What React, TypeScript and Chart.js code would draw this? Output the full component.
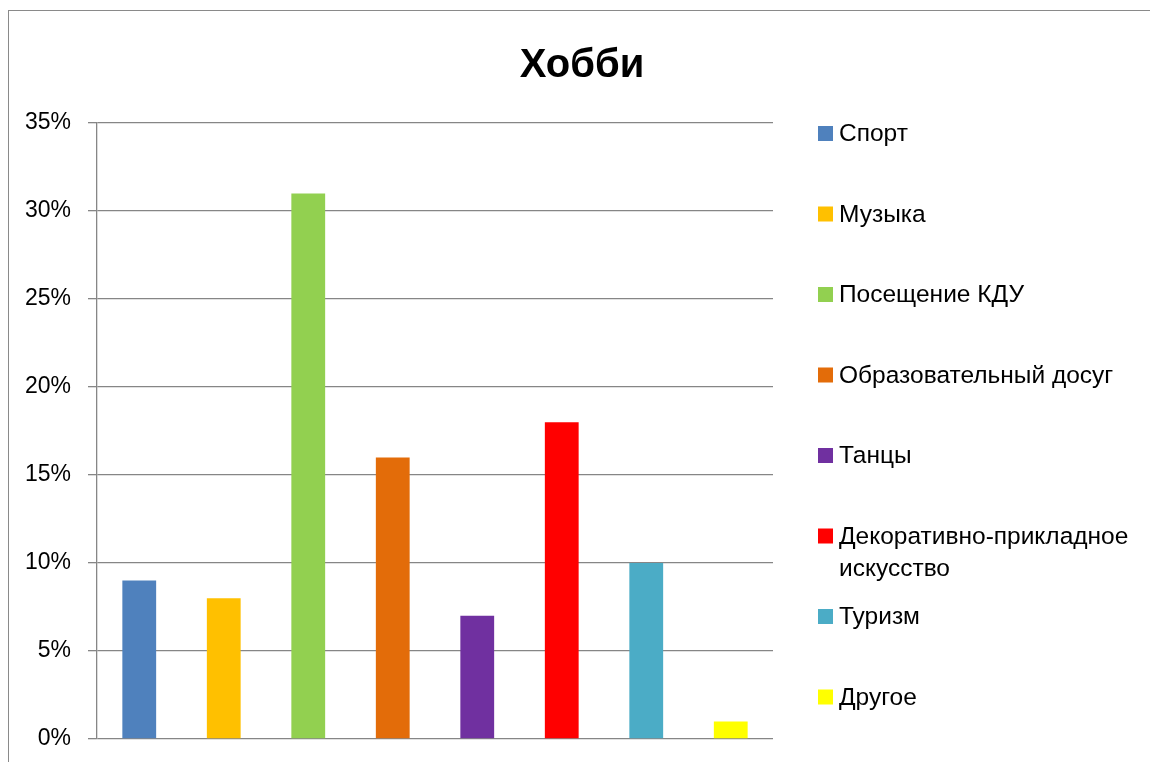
import React, { useEffect, useRef } from "react";
import { Chart, registerables } from "chart.js";

Chart.register(...registerables);

const TITLE = "Хобби";
const SERIES_NAMES: (string | string[])[] = [
  "Спорт",
  "Музыка",
  "Посещение КДУ",
  "Образовательный досуг",
  "Танцы",
  ["Декоративно-прикладное", "искусство"],
  "Туризм",
  "Другое",
];
const SERIES_VALUES = [9, 8, 31, 16, 7, 18, 10, 1];
const SERIES_COLORS = [
  "#4F81BD",
  "#FFC000",
  "#92D050",
  "#E36C09",
  "#7030A0",
  "#FF0000",
  "#4BACC6",
  "#FFFF00",
];
const Y_MAX = 35;
const Y_STEP = 5;

const FONT = "'Liberation Sans', Arial, sans-serif";

const titleAndLegend = {
  id: "titleAndLegend",
  afterDraw(chart: any) {
    const ctx = chart.ctx as CanvasRenderingContext2D;
    ctx.save();
    ctx.fillStyle = "#000";
    ctx.font = `bold 40px ${FONT}`;
    ctx.textAlign = "center";
    ctx.textBaseline = "alphabetic";
    ctx.fillText(TITLE, 582, 77);
    ctx.font = `24.5px ${FONT}`;
    ctx.textAlign = "left";
    ctx.textBaseline = "middle";
    const startY = 133.5;
    const step = 80.5;
    chart.data.datasets.forEach((ds: any, i: number) => {
      const cy = startY + i * step;
      ctx.fillStyle = ds.backgroundColor;
      ctx.fillRect(818, cy - 7.5, 15, 15);
      ctx.fillStyle = "#000";
      const lines = Array.isArray(ds.label) ? ds.label : [ds.label];
      lines.forEach((ln: string, j: number) => {
        ctx.fillText(ln, 839, cy + 1 + j * 32);
      });
    });
    ctx.restore();
  },
};

export default function App() {
  const ref = useRef<HTMLCanvasElement | null>(null);
  useEffect(() => {
    if (!ref.current) return;
    const chart = new Chart(ref.current, {
      type: "bar",
      data: {
        labels: [""],
        datasets: SERIES_NAMES.map((name, i) => ({
          label: name as any,
          data: [SERIES_VALUES[i]],
          backgroundColor: SERIES_COLORS[i],
          borderWidth: 0,
          categoryPercentage: 1,
          barPercentage: 0.4,
        })),
      },
      options: {
        animation: false,
        responsive: false,
        maintainAspectRatio: false,
        layout: { padding: { left: 0, right: 377, top: 123, bottom: 23 } },
        plugins: {
          legend: { display: false },
          title: { display: false },
          tooltip: { enabled: false },
        },
        scales: {
          x: {
            display: false,
            afterFit: (scale: any) => {
              scale.height = 0;
            },
          },
          y: {
            min: 0,
            max: Y_MAX,
            afterFit: (scale: any) => {
              scale.width = 97;
              scale.paddingBottom = 0;
              scale.paddingTop = 0;
            },
            ticks: {
              stepSize: Y_STEP,
              padding: 17,
              color: "#000",
              font: { family: FONT, size: 23 },
              callback: (v: any) => `${v}%`,
            },
            grid: {
              color: "#868686",
              lineWidth: 1.3,
              tickLength: 9,
              drawTicks: true,
            },
            border: { display: true, color: "#868686", width: 1.3 },
          },
        },
      },
      plugins: [titleAndLegend],
    });
    return () => chart.destroy();
  }, []);

  return (
    <div
      style={{
        position: "fixed",
        left: 0,
        top: 0,
        width: 1150,
        height: 762,
        background: "#fff",
        overflow: "hidden",
      }}
    >
      <div
        style={{
          position: "absolute",
          left: 8,
          top: 10,
          width: 1200,
          height: 800,
          borderLeft: "1.5px solid #8a8a8a",
          borderTop: "1.5px solid #8a8a8a",
        }}
      />
      <canvas
        ref={ref}
        width={1150}
        height={762}
        style={{ position: "absolute", left: 0, top: 0, width: 1150, height: 762 }}
      />
    </div>
  );
}
